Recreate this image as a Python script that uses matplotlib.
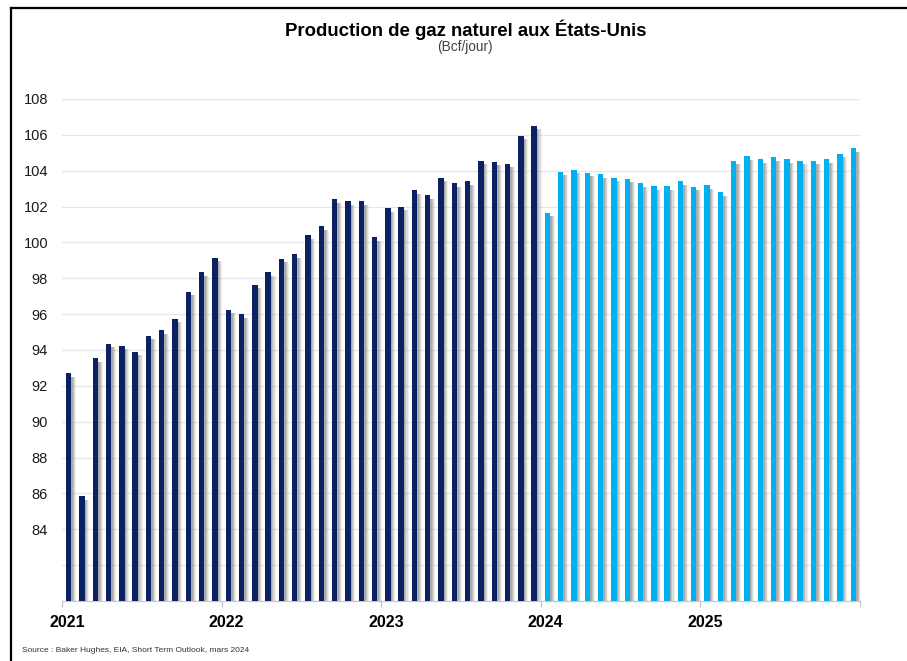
import matplotlib.pyplot as plt
import matplotlib.transforms as mtransforms
import numpy as np

plt.rcParams['font.family'] = ['Liberation Sans', 'DejaVu Sans']

# Production mensuelle (Bcf/jour)
prod_2021 = [92.7, 85.85, 93.55, 94.35, 94.25, 93.9, 94.8, 95.1, 95.75, 97.25, 98.35, 99.15]
prod_2022 = [96.25, 96.0, 97.65, 98.35, 99.1, 99.35, 100.4, 100.9, 102.4, 102.3, 102.3, 100.3]
prod_2023 = [101.9, 102.0, 102.9, 102.65, 103.6, 103.3, 103.4, 104.55, 104.5, 104.4, 105.95, 106.5]
prev_2024 = [101.65, 103.95, 104.05, 103.9, 103.8, 103.6, 103.55, 103.3, 103.15, 103.15, 103.4, 103.1]
prev_2025 = [103.2, 102.8, 104.55, 104.8, 104.65, 104.75, 104.65, 104.55, 104.55, 104.65, 104.95, 105.25]
annees = ['2021', '2022', '2023', '2024', '2025']

historique = prod_2021 + prod_2022 + prod_2023
prevision = prev_2024 + prev_2025
valeurs = np.array(historique + prevision)
couleurs = ['#0b2161'] * len(historique) + ['#00b0f0'] * len(prevision)

fig = plt.figure(figsize=(9.07, 6.61), dpi=100)
ax = fig.add_axes([62 / 907, 1 - 601 / 661, (860 - 62) / 907, (601 - 99) / 661])

y_min = 80
x = np.arange(len(valeurs)) + 0.5

# ombre portée derrière les barres
for dx, a in [(0.36, 0.12), (0.28, 0.22), (0.20, 0.32), (0.12, 0.40)]:
    ax.bar(x + dx, valeurs - y_min - 0.2, bottom=y_min, width=0.4,
           color='#8c8c8c', alpha=a, linewidth=0, zorder=2)
ax.bar(x, valeurs - y_min, bottom=y_min, width=0.4, color=couleurs,
       linewidth=0, zorder=3)

ax.set_xlim(0, len(valeurs))
ax.set_ylim(y_min, 108)

ax.set_yticks(np.arange(82, 109, 2))
ax.set_yticklabels(['' if v < 84 else str(v) for v in range(82, 109, 2)])
ax.grid(axis='y', color='#e6e6e6', linewidth=0.9, zorder=0)
ax.tick_params(axis='y', length=0, pad=10, labelsize=10.5, labelcolor='#1a1a1a')

ax.set_xticks(np.arange(0, len(valeurs) + 1, 12))
ax.set_xticklabels(annees + [''])
ax.tick_params(axis='x', length=4, color='#bfbfbf', pad=6, labelsize=11.5)
decalage = mtransforms.ScaledTranslation(5 / 100, 0, fig.dpi_scale_trans)
for lab in ax.get_xticklabels():
    lab.set_fontweight('bold')
    lab.set_transform(lab.get_transform() + decalage)

for s in ['left', 'right', 'top']:
    ax.spines[s].set_visible(False)
ax.spines['bottom'].set_color('#c8c8c8')
ax.spines['bottom'].set_linewidth(0.9)

fig.text(466 / 907, 1 - 30 / 661, 'Production de gaz naturel aux États-Unis',
         ha='center', va='center', fontsize=13.4, fontweight='bold')
fig.text(465 / 907, 1 - 47 / 661, '(Bcf/jour)', ha='center', va='center',
         fontsize=9.8, color='#404040')
fig.text(22 / 907, 1 - 650 / 661, 'Source : Baker Hughes, EIA, Short Term Outlook, mars 2024',
         ha='left', va='center', fontsize=6, color='#333333')

# cadre
fig.add_artist(plt.Line2D([11 / 907, 1], [1 - 8 / 661, 1 - 8 / 661],
                          transform=fig.transFigure, color='black', linewidth=1.6))
fig.add_artist(plt.Line2D([11 / 907, 11 / 907], [0, 1 - 8 / 661],
                          transform=fig.transFigure, color='black', linewidth=1.6))

fig.savefig('out.png', dpi=100)
